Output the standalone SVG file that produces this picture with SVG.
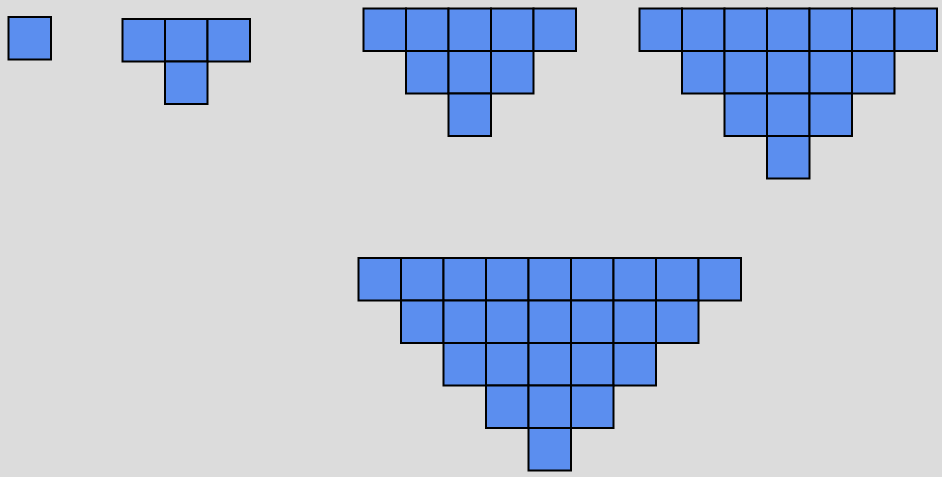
<svg xmlns="http://www.w3.org/2000/svg" width="942" height="477" viewBox="0 0 942 477">
<style>
.c{fill:#5b8eef;stroke:#000;stroke-width:2}
</style>
<defs>
<rect id="sq" class="c" width="42.5" height="42.5"/>
</defs>
<rect width="942" height="477" fill="#dcdcdc"/>
<g id="t1" transform="translate(8.5,17)">
<use href="#sq" x="0" y="0"/>
</g>
<g id="t2" transform="translate(122.5,19)">
<use href="#sq" x="0" y="0"/><use href="#sq" x="42.5" y="0"/><use href="#sq" x="85" y="0"/>
<use href="#sq" x="42.5" y="42.5"/>
</g>
<g id="t3" transform="translate(363.5,8.5)">
<use href="#sq" x="0" y="0"/><use href="#sq" x="42.5" y="0"/><use href="#sq" x="85" y="0"/><use href="#sq" x="127.5" y="0"/><use href="#sq" x="170" y="0"/>
<use href="#sq" x="42.5" y="42.5"/><use href="#sq" x="85" y="42.5"/><use href="#sq" x="127.5" y="42.5"/>
<use href="#sq" x="85" y="85"/>
</g>
<g id="t4" transform="translate(639.5,8.5)">
<use href="#sq" x="0" y="0"/><use href="#sq" x="42.5" y="0"/><use href="#sq" x="85" y="0"/><use href="#sq" x="127.5" y="0"/><use href="#sq" x="170" y="0"/><use href="#sq" x="212.5" y="0"/><use href="#sq" x="255" y="0"/>
<use href="#sq" x="42.5" y="42.5"/><use href="#sq" x="85" y="42.5"/><use href="#sq" x="127.5" y="42.5"/><use href="#sq" x="170" y="42.5"/><use href="#sq" x="212.5" y="42.5"/>
<use href="#sq" x="85" y="85"/><use href="#sq" x="127.5" y="85"/><use href="#sq" x="170" y="85"/>
<use href="#sq" x="127.5" y="127.5"/>
</g>
<g id="t5" transform="translate(358.5,258)">
<use href="#sq" x="0" y="0"/><use href="#sq" x="42.5" y="0"/><use href="#sq" x="85" y="0"/><use href="#sq" x="127.5" y="0"/><use href="#sq" x="170" y="0"/><use href="#sq" x="212.5" y="0"/><use href="#sq" x="255" y="0"/><use href="#sq" x="297.5" y="0"/><use href="#sq" x="340" y="0"/>
<use href="#sq" x="42.5" y="42.5"/><use href="#sq" x="85" y="42.5"/><use href="#sq" x="127.5" y="42.5"/><use href="#sq" x="170" y="42.5"/><use href="#sq" x="212.5" y="42.5"/><use href="#sq" x="255" y="42.5"/><use href="#sq" x="297.5" y="42.5"/>
<use href="#sq" x="85" y="85"/><use href="#sq" x="127.5" y="85"/><use href="#sq" x="170" y="85"/><use href="#sq" x="212.5" y="85"/><use href="#sq" x="255" y="85"/>
<use href="#sq" x="127.5" y="127.5"/><use href="#sq" x="170" y="127.5"/><use href="#sq" x="212.5" y="127.5"/>
<use href="#sq" x="170" y="170"/>
</g>
</svg>
